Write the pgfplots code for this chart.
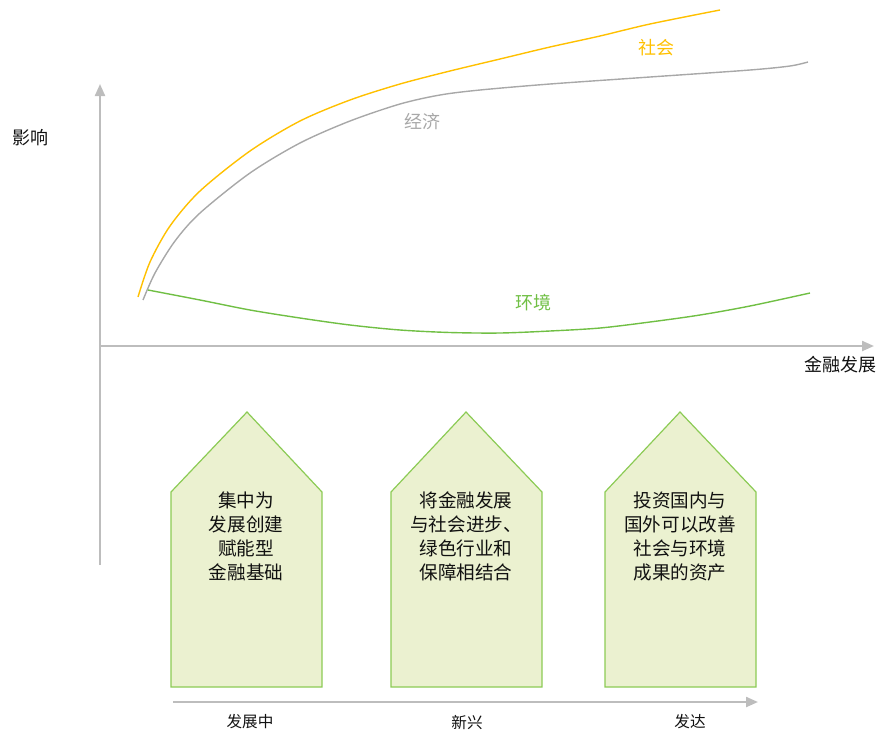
\documentclass[border=0pt]{standalone}
\usepackage{pgfplots}
\pgfplotsset{compat=1.18}
\usepackage{fontspec}
\setmainfont{Noto Sans CJK SC}
\usetikzlibrary{arrows.meta}
\definecolor{axgray}{HTML}{BDBDBD}
\definecolor{econgray}{HTML}{A8A8A8}
\definecolor{socyellow}{HTML}{FFC000}
\definecolor{envgreen}{HTML}{70BF44}
\definecolor{penfill}{HTML}{EBF1D0}
\definecolor{penborder}{HTML}{8CCB55}
\definecolor{txt}{HTML}{111111}
\begin{document}
\begin{tikzpicture}
\begin{axis}[
  scale only axis, width=439pt, height=367.5pt,
  xmin=0, xmax=878, ymin=0, ymax=735, y dir=reverse,
  axis lines=none, ticks=none, clip=false,
]
% axes
\addplot[axgray, line width=1.1pt, -{Triangle[length=6pt,width=5pt]}] coordinates {(100,565) (100,84)};
\addplot[axgray, line width=1.1pt, -{Triangle[length=6pt,width=5pt]}] coordinates {(100,346) (874,346)};
% society
\addplot[socyellow, line width=0.7pt, smooth] coordinates {
(138,297) (150,262) (170,226) (200,191) (250,151) (300,121) (350,100) (400,84) (450,71) (500,59) (550,47) (600,36) (650,24) (720,10)};
% economy
\addplot[econgray, line width=0.7pt, smooth] coordinates {
(143,300) (155,273) (175,241) (200,213) (250,173) (300,143) (350,121) (400,104) (440,95) (480,90) (550,84) (650,77) (750,70) (790,66) (808,62)};
% environment
\addplot[envgreen, line width=0.7pt, smooth] coordinates {
(148,290) (200,300) (250,310) (300,318) (350,325) (400,330) (450,332.5) (500,333) (550,331) (600,328) (650,322) (700,315) (750,306) (810,293)};
% pentagons
\addplot[fill=penfill, draw=penborder, line width=0.6pt] coordinates {(171,687) (171,492) (247,412) (322,492) (322,687)} --cycle;
\addplot[fill=penfill, draw=penborder, line width=0.6pt] coordinates {(391,687) (391,492) (466,412) (542,492) (542,687)} --cycle;
\addplot[fill=penfill, draw=penborder, line width=0.6pt] coordinates {(605,687) (605,492) (680,412) (756,492) (756,687)} --cycle;
% bottom arrow
\addplot[axgray, line width=1.1pt, -{Triangle[length=6pt,width=5pt]}] coordinates {(173,702) (758,702)};
% labels
\node[txt, font=\fontsize{9}{11}\selectfont] at (axis cs:30,138) {影响};
\node[txt, font=\fontsize{9}{11}\selectfont] at (axis cs:840,365) {金融发展};
\node[socyellow, font=\fontsize{9}{11}\selectfont] at (axis cs:656,48) {社会};
\node[econgray, font=\fontsize{9}{11}\selectfont] at (axis cs:422,122) {经济};
\node[envgreen, font=\fontsize{9}{11}\selectfont] at (axis cs:533,303) {环境};
\node[txt, anchor=north, align=center, font=\fontsize{9.3}{12}\selectfont] at (axis cs:246,485) {集中为\\发展创建\\赋能型\\金融基础};
\node[txt, anchor=north, align=center, font=\fontsize{9.3}{12}\selectfont] at (axis cs:466,485) {将金融发展\\与社会进步、\\绿色行业和\\保障相结合};
\node[txt, anchor=north, align=center, font=\fontsize{9.3}{12}\selectfont] at (axis cs:680,485) {投资国内与\\国外可以改善\\社会与环境\\成果的资产};
\node[txt, font=\fontsize{7.8}{10}\selectfont] at (axis cs:250,722) {发展中};
\node[txt, font=\fontsize{7.8}{10}\selectfont] at (axis cs:467,722) {新兴};
\node[txt, font=\fontsize{7.8}{10}\selectfont] at (axis cs:690,722) {发达};
\end{axis}
\pgfresetboundingbox
\useasboundingbox (current axis.south west) rectangle (current axis.north east);
\end{tikzpicture}
\end{document}
